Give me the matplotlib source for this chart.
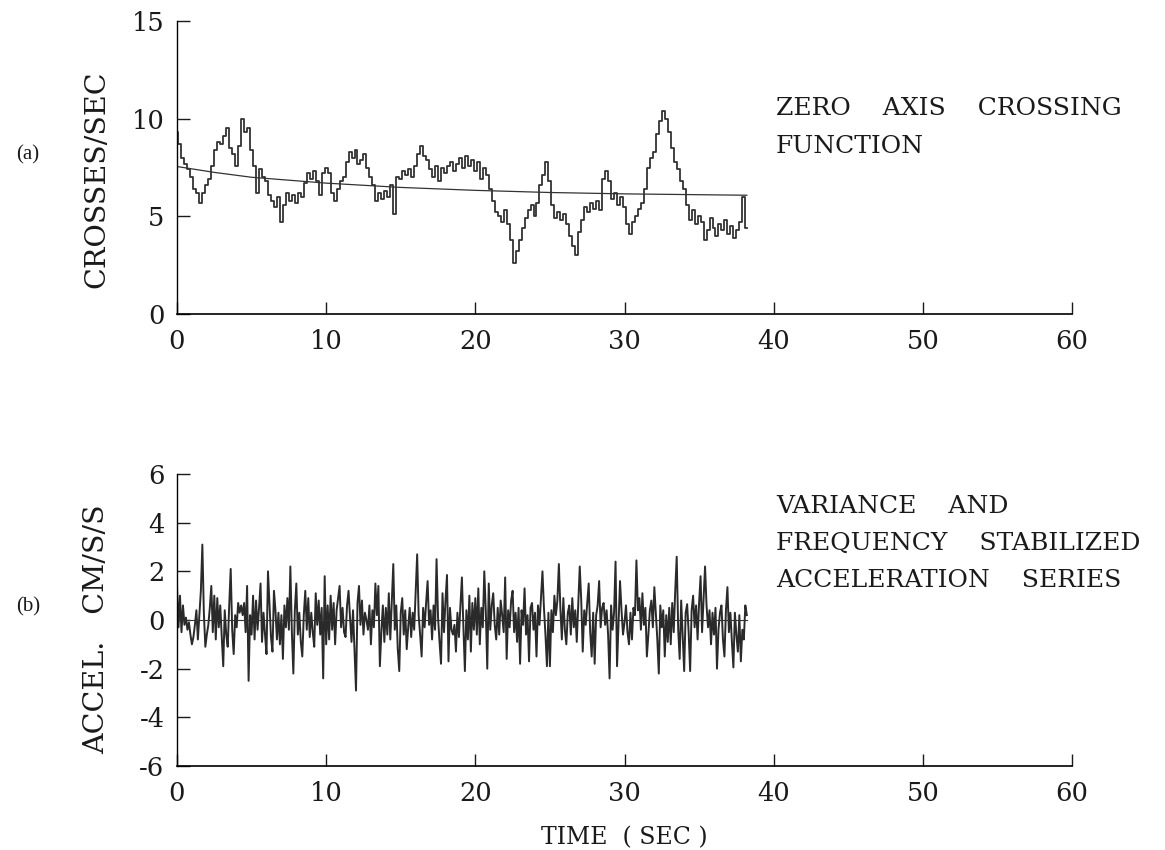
import numpy as np
import matplotlib
matplotlib.use("Agg")
import matplotlib.pyplot as plt

# ---------------- data ----------------
dt_top = 0.2
zc_values = [
    9.3, 8.7, 8.0, 7.7, 7.4,
    7.0, 6.4, 6.2, 5.7, 6.2,
    6.6, 6.9, 7.6, 8.4, 8.8,
    8.7, 9.1, 9.5, 8.5, 8.2,
    7.6, 8.6, 10.0, 9.3, 9.5,
    8.4, 7.6, 6.2, 7.4, 7.0,
    6.8, 6.1, 5.8, 5.5, 6.0,
    4.7, 5.6, 6.2, 5.8, 6.1,
    5.7, 6.2, 6.0, 6.7, 7.2,
    6.9, 7.3, 6.8, 6.1, 7.2,
    7.5, 7.2, 6.2, 5.8, 6.4,
    6.8, 7.0, 7.8, 8.3, 8.0,
    8.4, 7.7, 7.9, 8.2, 7.5,
    7.0, 6.6, 5.8, 6.2, 5.9,
    6.3, 6.0, 6.6, 5.1, 7.0,
    6.9, 7.3, 7.1, 7.4, 7.0,
    7.6, 8.2, 8.6, 8.1, 7.9,
    7.4, 7.0, 7.6, 6.8, 7.5,
    7.2, 7.6, 7.8, 7.3, 7.7,
    8.0, 7.5, 8.1, 7.6, 7.9,
    7.3, 7.8, 6.9, 7.5, 7.1,
    6.4, 5.8, 5.2, 5.0, 4.7,
    5.3, 4.6, 3.8, 2.6, 3.2,
    3.8, 4.4, 4.9, 5.3, 5.6,
    5.0, 5.7, 6.6, 7.1, 7.8,
    6.8, 5.6, 4.9, 5.2, 4.8,
    5.1, 4.6, 4.0, 3.5, 3.0,
    4.2, 4.8, 5.5, 5.2, 5.7,
    5.4, 5.8, 5.3, 6.9, 7.3,
    6.8, 5.9, 6.2, 5.6, 6.0,
    5.5, 4.6, 4.1, 4.7, 5.0,
    5.4, 5.7, 6.4, 7.5, 8.0,
    8.3, 9.2, 9.9, 10.4, 10.0,
    9.3, 8.5, 7.8, 7.4, 6.8,
    6.4, 5.6, 4.8, 5.3, 4.6,
    5.0, 4.7, 3.8, 4.3, 4.9,
    4.4, 4.0, 4.6, 4.3, 4.8,
    4.1, 4.5, 3.9, 4.3, 4.7,
    6.0, 4.4,
]
trend_t = [0, 2.5, 5, 10, 15, 20, 25, 30, 38.2]
trend_v = [7.55, 7.25, 7.0, 6.7, 6.48, 6.33, 6.22, 6.15, 6.08]

dt_bot = 0.1
acc_values = [
    1.4, -0.3, 1.0, -0.5, 0.6, -0.2, 0.1, -0.4, -0.1, -0.6,
    -1.0, -0.7, -0.2, 0.4, -0.8, 0.2, 1.2, 3.1, 0.3, -1.1,
    -0.6, -0.2, 0.5, 1.4, -0.5, 1.0, -0.8, 0.9, -0.3, 0.6,
    -0.7, -1.9, 0.4, -0.6, -1.1, 0.6, 2.1, -0.4, -1.4, 0.2,
    -0.3, 0.7, 0.3, 0.6, 0.2, 0.7, -0.5, 1.4, -2.5, 0.2,
    -0.6, 1.0, -0.8, 0.8, -0.4, 0.5, 1.5, -0.9, 0.3, -0.6,
    -1.4, 2.0, 0.6, -0.7, -1.3, 1.2, 0.4, -0.8, 0.3, -1.0,
    0.2, -1.6, 0.6, -0.3, 0.9, -0.4, 2.2, -0.5, -2.2, 0.4,
    1.5, -0.6, 0.3, -0.9, -1.5, 0.2, 1.2, -0.4, 0.9, -0.7,
    0.3, -0.5, -1.1, 1.1, -0.2, 0.8, -0.6, 0.5, -2.4, 1.8,
    -1.0, 0.6, -0.8, 1.0, -0.4, 0.7, -1.0, 0.4, 0.9, 1.4,
    -0.3, 0.5, -0.5, -0.7, 0.6, 1.2, 0.1, -0.9, 0.4, -1.2,
    -2.9, 0.7, 1.4, -0.2, 0.8, -0.6, 0.3, 0.0, -0.4, 0.6,
    -1.0, 0.4, -0.3, 1.5, 0.2, 1.4, -1.9, -0.5, 0.6, -0.9,
    0.5, -0.6, 1.1, -0.8, 0.7, 2.3, -0.4, 0.6, -1.2, -2.1,
    0.3, 0.9, -0.6, 0.4, -1.2, -0.3, 0.5, -0.7, 0.3, -0.4,
    1.2, 2.7, 0.2, -0.6, -1.5, 0.5, -0.3, 0.7, 1.6, -0.2,
    0.4, -0.8, 0.6, -0.4, 2.5, 0.1, -0.9, -1.8, 1.1, -0.5,
    0.8, 1.85, -1.7, 0.5, -0.4, -0.6, -0.2, -1.3, 0.3, -0.7,
    0.6, 1.75, -0.3, -2.1, 0.4, -0.8, 1.0, -1.3, 0.7, -0.4,
    0.9, -0.6, 1.3, -1.0, 0.5, -0.3, 2.0, 0.4, -2.0, 1.5,
    -0.4, 0.6, 1.1, -0.2, -0.8, 0.5, -0.6, 0.8, 0.2, -0.5,
    1.75, -1.6, 0.4, -0.3, 0.8, 1.2, -0.5, 0.3, -0.9, 0.5,
    -1.8, 0.4, -0.2, 1.3, -0.6, 0.2, -1.7, 0.5, 0.7, -0.4,
    0.3, -1.5, 0.6, -0.2, 0.9, 2.0, 0.5, -0.6, -1.9, 0.3,
    -1.9, 0.4, -0.5, 1.0, 0.2, 0.8, 2.3, 0.5, -0.8, 0.9,
    -0.4, -1.0, 0.3, 0.6, -0.6, 0.9, -0.3, 0.4, -0.9, 0.7,
    2.2, 0.8, -1.3, 0.4, -0.2, 0.7, 1.5, -0.5, -1.5, 0.3,
    -1.8, 0.2, 0.6, 1.6, -0.3, 0.5, 0.7, -0.2, 0.4, -0.6,
    -2.4, 0.6, -0.4, 0.3, 2.4, -1.9, -0.2, 1.6, 0.4, -0.6,
    -0.1, 0.6, -0.5, -1.0, 0.3, -0.8, 0.5, 0.2, 2.45, 0.4,
    0.9, -0.4, 1.1, -0.2, 0.5, -1.5, -0.6, 0.4, 0.8, -0.3,
    1.35, 0.3, -0.8, -2.2, 0.6, -0.3, 0.4, -1.5, 0.2, -0.9,
    0.5, -1.0, 0.7, -0.5, 1.2, 2.6, -0.4, -1.6, 0.8, -0.6,
    -2.1, 0.3, 0.65, -0.5, -2.1, 0.4, 1.0, -0.3, 0.6, -0.8,
    0.7, 1.8, -0.5, 0.9, 2.2, 0.6, -0.3, 0.4, -1.0, 0.3,
    -0.6, 0.5, -2.0, -0.4, 0.3, 0.6, -0.8, -1.5, 0.4, 1.35,
    -0.5, 0.3, -0.9, -1.95, 0.3, -0.6, -1.3, 0.2, -1.7, -0.4,
    -0.8, 0.6, 0.2,
]
zero_t = [0, 38.2]
zero_v = [0, 0]

x_ticks = [0, 10, 20, 30, 40, 50, 60]
x_ticklabels = ["0", "10", "20", "30", "40", "50", "60"]
top_yticks = [0, 5, 10, 15]
top_yticklabels = ["0", "5", "10", "15"]
bot_yticks = [-6, -4, -2, 0, 2, 4, 6]
bot_yticklabels = ["-6", "-4", "-2", "0", "2", "4", "6"]

# ---------------- plot ----------------
FONT = "DejaVu Serif"
plt.rcParams["font.family"] = [FONT]

W, H = 1165, 850
fig = plt.figure(figsize=(W / 100, H / 100), dpi=100)
fig.patch.set_facecolor("white")

left, right = 177, 1072
ax1 = fig.add_axes([left / W, 1 - 314 / H, (right - left) / W, (314 - 21) / H])
ax2 = fig.add_axes([left / W, 1 - 766 / H, (right - left) / W, (766 - 474) / H])

t_top = np.arange(len(zc_values)) * dt_top
t_bot = np.arange(len(acc_values)) * dt_bot

ax1.plot(t_top, zc_values, color="#333333", lw=1.3, drawstyle="steps-mid")
ax1.plot(trend_t, trend_v, color="#333333", lw=0.9)
ax2.plot(t_bot, acc_values, color="#2a2a2a", lw=1.4)
ax2.plot(zero_t, zero_v, color="#333333", lw=0.8)

TXT = "#1a1a1a"
for ax, yt, ytl, ylim in [
    (ax1, top_yticks, top_yticklabels, (0, 15)),
    (ax2, bot_yticks, bot_yticklabels, (-6, 6)),
]:
    ax.set_xlim(0, 60)
    ax.set_ylim(*ylim)
    ax.set_xticks(x_ticks)
    ax.set_xticklabels(x_ticklabels)
    ax.set_yticks(yt)
    ax.set_yticklabels(ytl)
    ax.spines["top"].set_visible(False)
    ax.spines["right"].set_visible(False)
    ax.spines["left"].set_linewidth(1.0)
    ax.spines["bottom"].set_linewidth(1.2)
    ax.tick_params(axis="both", direction="in", length=9, width=1.0,
                   labelsize=18.5, colors=TXT)
    ax.tick_params(axis="x", pad=11)
    ax.tick_params(axis="y", pad=9)
    for lbl in ax.get_xticklabels() + ax.get_yticklabels():
        lbl.set_clip_on(False)

ax1.set_ylabel("CROSSES/SEC", fontsize=20.5, color=TXT)
ax1.yaxis.set_label_coords(-0.075, 0.46)
ax2.set_ylabel("ACCEL.   CM/S/S", fontsize=20.5, color=TXT)
ax2.yaxis.set_label_coords(-0.075, 0.47)
ax2.set_xlabel("TIME  ( SEC )", fontsize=17, color=TXT, labelpad=14)

txt_kw = dict(fontsize=18, color=TXT, ha="left", va="baseline")
fig.text(776 / W, 1 - 115 / H, "ZERO    AXIS    CROSSING", **txt_kw)
fig.text(776 / W, 1 - 153 / H, "FUNCTION", **txt_kw)
fig.text(776 / W, 1 - 513 / H, "VARIANCE    AND", **txt_kw)
fig.text(776 / W, 1 - 550 / H, "FREQUENCY    STABILIZED", **txt_kw)
fig.text(776 / W, 1 - 587 / H, "ACCELERATION    SERIES", **txt_kw)

lab_kw = dict(fontsize=15, color=TXT, ha="center", va="center",
              family="Liberation Serif")
fig.text(28 / W, 1 - 155 / H, "(a)", **lab_kw)
fig.text(28 / W, 1 - 607 / H, "(b)", **lab_kw)

fig.savefig("out.png", dpi=100, facecolor="white")
